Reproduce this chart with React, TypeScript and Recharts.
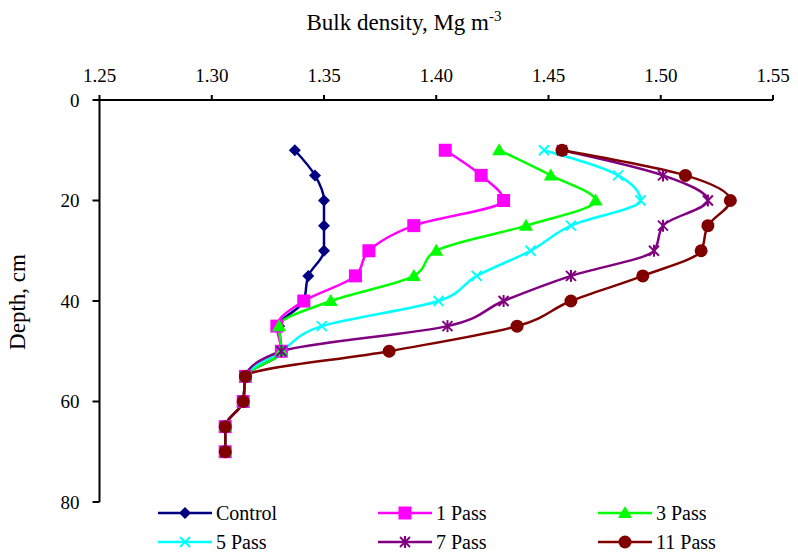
import React from "react";
import { LineChart, Line, XAxis, YAxis } from "recharts";

const depths = [10, 15, 20, 25, 30, 35, 40, 45, 50, 55, 60, 65, 70];
const control = [1.337, 1.346, 1.35, 1.35, 1.35, 1.343, 1.341, 1.33, 1.331, 1.315, 1.314, 1.306, 1.306];
const pass1 = [1.404, 1.42, 1.43, 1.39, 1.37, 1.364, 1.341, 1.329, 1.331, 1.315, 1.314, 1.306, 1.306];
const pass3 = [1.428, 1.451, 1.471, 1.44, 1.4, 1.39, 1.353, 1.33, 1.331, 1.315, 1.314, 1.306, 1.306];
const pass5 = [1.448, 1.481, 1.491, 1.46, 1.442, 1.418, 1.401, 1.349, 1.331, 1.315, 1.314, 1.306, 1.306];
const pass7 = [1.456, 1.501, 1.521, 1.501, 1.497, 1.46, 1.43, 1.405, 1.331, 1.315, 1.314, 1.306, 1.306];
const pass11 = [1.456, 1.511, 1.531, 1.521, 1.518, 1.492, 1.46, 1.436, 1.379, 1.315, 1.314, 1.306, 1.306];

const xTicks = [1.25, 1.3, 1.35, 1.4, 1.45, 1.5, 1.55];
const yTicks = [0, 20, 40, 60, 80];

const data = depths.map((d, i) => ({
  depth: d,
  control: control[i],
  pass1: pass1[i],
  pass3: pass3[i],
  pass5: pass5[i],
  pass7: pass7[i],
  pass11: pass11[i],
}));

type Shape = "diamond" | "square" | "triangle" | "x" | "star" | "circle";

const series: { key: string; name: string; color: string; shape: Shape }[] = [
  { key: "control", name: "Control", color: "#000080", shape: "diamond" },
  { key: "pass1", name: "1 Pass", color: "#ff00ff", shape: "square" },
  { key: "pass3", name: "3 Pass", color: "#00ff00", shape: "triangle" },
  { key: "pass5", name: "5 Pass", color: "#00ffff", shape: "x" },
  { key: "pass7", name: "7 Pass", color: "#800080", shape: "star" },
  { key: "pass11", name: "11 Pass", color: "#800000", shape: "circle" },
];

const FONT = "'Liberation Serif', 'Times New Roman', serif";

function Marker({ cx, cy, shape, color }: { cx: number; cy: number; shape: Shape; color: string }) {
  switch (shape) {
    case "diamond":
      return <polygon points={`${cx},${cy - 6} ${cx + 6},${cy} ${cx},${cy + 6} ${cx - 6},${cy}`} fill={color} />;
    case "square":
      return <rect x={cx - 6.5} y={cy - 6.5} width={13} height={13} fill={color} />;
    case "triangle":
      return <polygon points={`${cx},${cy - 7} ${cx + 7},${cy + 5} ${cx - 7},${cy + 5}`} fill={color} />;
    case "x":
      return (
        <g stroke={color} strokeWidth={2}>
          <line x1={cx - 5} y1={cy - 5} x2={cx + 5} y2={cy + 5} />
          <line x1={cx - 5} y1={cy + 5} x2={cx + 5} y2={cy - 5} />
        </g>
      );
    case "star":
      return (
        <g stroke={color} strokeWidth={2}>
          <line x1={cx - 5} y1={cy - 5} x2={cx + 5} y2={cy + 5} />
          <line x1={cx - 5} y1={cy + 5} x2={cx + 5} y2={cy - 5} />
          <line x1={cx} y1={cy - 6} x2={cx} y2={cy + 6} />
        </g>
      );
    default:
      return <circle cx={cx} cy={cy} r={6.5} fill={color} />;
  }
}

const dotFor = (shape: Shape, color: string) => (p: any) => (
  <g key={`d-${p.index}`}>
    <Marker cx={p.cx} cy={p.cy} shape={shape} color={color} />
  </g>
);

export default function App() {
  return (
    <div style={{ position: "relative", width: 790, height: 548, fontFamily: FONT, color: "#000" }}>
      <LineChart
        width={790}
        height={548}
        data={data}
        layout="vertical"
        margin={{ top: 62, right: 25, bottom: 54, left: 31.5 }}
        style={{ fontFamily: FONT }}
      >
        <XAxis
          type="number"
          orientation="top"
          domain={[1.25, 1.55]}
          ticks={xTicks}
          allowDataOverflow
          height={30}
          axisLine={{ stroke: "#000", strokeWidth: 2 }}
          tickLine={{ stroke: "#000", strokeWidth: 2 }}
          tickSize={5}
          tickMargin={13}
          tickFormatter={(v: number) => v.toFixed(2)}
          tick={{ fontSize: 19, fill: "#000", fontFamily: FONT }}
        />
        <YAxis
          type="number"
          dataKey="depth"
          domain={[0, 80]}
          ticks={yTicks}
          width={60}
          axisLine={{ stroke: "#000", strokeWidth: 2 }}
          tickLine={{ stroke: "#000", strokeWidth: 2 }}
          tickSize={7}
          tickMargin={13}
          tick={{ fontSize: 19, fill: "#000", fontFamily: FONT }}
        />
        {series.map((s) => (
          <Line
            key={s.key}
            type="monotone"
            dataKey={s.key}
            name={s.name}
            stroke={s.color}
            strokeWidth={2.5}
            dot={dotFor(s.shape, s.color)}
            activeDot={false}
            isAnimationActive={false}
          />
        ))}
      </LineChart>

      <div style={{ position: "absolute", left: 196, top: 2, width: 400, textAlign: "center", fontSize: 23, lineHeight: "26px", whiteSpace: "nowrap" }}>
        Bulk density, Mg m<sup style={{ fontSize: 15, verticalAlign: "9px", lineHeight: 0 }}>-3</sup>
      </div>

      <div
        style={{
          position: "absolute",
          left: 10,
          top: 294,
          fontSize: 23,
          lineHeight: "26px",
          whiteSpace: "nowrap",
          transform: "translate(-50%, -50%) rotate(-90deg)",
        }}
      >
        Depth, cm
      </div>

      {series.map((s, i) => {
        const col = i % 3;
        const row = Math.floor(i / 3);
        return (
          <div
            key={s.key}
            style={{
              position: "absolute",
              left: 150 + col * 220,
              top: 494 + row * 29,
              height: 22,
              display: "flex",
              alignItems: "center",
              fontSize: 20,
              whiteSpace: "nowrap",
            }}
          >
            <svg width={54} height={20} style={{ marginRight: 4 }}>
              <line x1={0} y1={10} x2={54} y2={10} stroke={s.color} strokeWidth={2.5} />
              <Marker cx={27} cy={10} shape={s.shape} color={s.color} />
            </svg>
            {s.name}
          </div>
        );
      })}
    </div>
  );
}
